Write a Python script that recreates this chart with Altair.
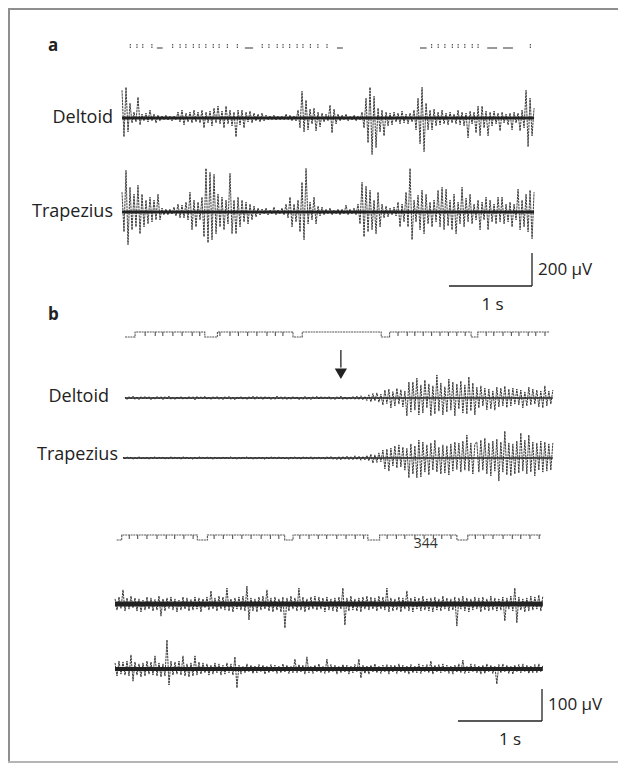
import altair as alt
import numpy as np
import pandas as pd

# ---------------- data ----------------
DT_A = 0.0241   # s between samples, panel a
DT_B = 0.0238   # s between samples, panel b

# panel a, µV
DELTOID_A = [
    168, -114, 186, -84, 90, -30, 36, -24, 126, -42,
    24, -18, 30, -24, 48, -18, 24, -30, 18, -18,
    12, -12, 18, -12, 12, -18, 12, -12, 36, -24,
    48, -42, 30, -24, 36, -30, 48, -24, 36, -30,
    48, -60, 36, -30, 42, -48, 60, -30, 72, -36,
    42, -60, 72, -36, 48, -48, 36, -114, 48, -42,
    48, -60, 36, -24, 42, -30, 30, -18, 24, -24,
    30, -18, 18, -12, 12, -12, 18, -12, 12, -12,
    12, -12, 24, -12, 18, -18, 12, -18, 48, -60,
    162, -84, 108, -72, 54, -36, 60, -78, 36, -54,
    30, -24, 24, -18, 78, -90, 54, -36, 24, -18,
    18, -12, 24, -18, 12, -12, 18, -18, 12, -12,
    36, -60, 120, -150, 186, -222, 132, -180, 60, -84,
    48, -108, 36, -48, 30, -42, 36, -24, 30, -36,
    42, -30, 24, -36, 30, -24, 48, -72, 120, -156,
    186, -204, 90, -72, 48, -72, 54, -48, 36, -42,
    48, -36, 30, -42, 36, -30, 24, -36, 48, -42,
    36, -48, 30, -120, 42, -36, 36, -90, 72, -108,
    72, -60, 42, -108, 36, -48, 42, -36, 30, -78,
    36, -30, 24, -42, 30, -72, 36, -30, 30, -78,
    48, -60, 168, -174, 120, -108, 60,
]
TRAPEZIUS_A = [
    120, -120, 252, -198, 150, -108, 108, -90, 162, -132,
    108, -90, 72, -72, 90, -60, 72, -48, 108, -48,
    24, -18, 18, -18, 18, -12, 30, -24, 48, -36,
    42, -36, 60, -48, 120, -108, 72, -90, 60, -48,
    90, -150, 264, -186, 240, -168, 228, -132, 108, -90,
    90, -108, 72, -72, 234, -132, 72, -132, 90, -90,
    72, -60, 60, -72, 48, -48, 36, -30, 24, -18,
    18, -12, 24, -18, 12, -12, 30, -18, 12, -12,
    24, -18, 48, -36, 90, -90, 48, -60, 72, -120,
    180, -168, 264, -72, 60, -48, 90, -72, 36, -24,
    30, -18, 18, -12, 24, -18, 12, -12, 18, -18,
    18, -12, 42, -18, 18, -12, 24, -18, 48, -72,
    180, -150, 156, -120, 132, -108, 72, -132, 120, -90,
    48, -36, 36, -30, 24, -18, 30, -24, 60, -90,
    48, -60, 120, -90, 264, -168, 72, -60, 102, -108,
    132, -132, 108, -72, 60, -90, 72, -60, 132, -90,
    150, -108, 138, -84, 72, -108, 108, -132, 60, -72,
    150, -90, 84, -60, 108, -72, 48, -48, 72, -108,
    60, -48, 90, -108, 72, -60, 48, -72, 90, -60,
    90, -72, 48, -60, 60, -90, 48, -48, 138, -108,
    72, -90, 108, -120, 132, -162, 120,
]

# panel b, upper pair (arrow marks onset), µV
DELTOID_B1 = [
    3, -5, 4, -3, 6, -4, 3, -5, 4, -3,
    5, -3, 4, -6, 3, -4, 5, -3, 4, -5,
    4, -3, 6, -4, 3, -5, 4, -3, 5, -4,
    3, -4, 5, -3, 4, -6, 5, -3, 4, -3,
    6, -4, 3, -5, 4, -3, 5, -4, 3, -5,
    4, -3, 5, -4, 3, -6, 4, -3, 5, -4,
    3, -5, 4, -3, 6, -4, 5, -3, 4, -5,
    5, -3, 4, -5, 3, -4, 6, -3, 4, -4,
    4, -5, 3, -4, 5, -3, 4, -6, 3, -4,
    5, -4, 3, -5, 4, -3, 6, -4, 5, -3,
    4, -3, 5, -4, 3, -5, 4, -3, 6, -5,
    4, -5, 3, -4, 5, -4,
    6, -5, 7, -6, 5, -8,
    10, -12, 14, -9, 16, -13, 12,
    -22, 25, -18, 28, -31, 20, -25, 30, -19, 26, -28, 22,
    -56, 50,
    -44, 50, -38, 62, -53, 41, -47, 56, -31, 44,
    -56, 38, -50, 72, -41, 47, -53, 35, -44, 59,
    -38, 50, -56, 44, -34, 53, -47, 41, -50, 66,
    -40, 47, -53,
    34, -31, 38, -25, 31, -37, 28, -34, 22, -38,
    34, -28, 31, -25, 37, -30, 28,
    -25, 31, -19, 28, -22, 25, -31, 19, -25, 34,
    -22, 28, -19, 25, -28, 22, -31, 38, -25, 22,
    -19, 25,
]
TRAPEZIUS_B1 = [
    3, -3, 4, -2, 3, -4, 2, -3, 4, -3,
    2, -3, 3, -4, 3, -2, 4, -3, 3, -2,
    3, -4, 2, -3, 4, -3, 3, -2, 3, -4,
    4, -2, 3, -3, 2, -4, 3, -3, 4, -2,
    3, -3, 4, -2, 3, -4, 3, -2, 2, -3,
    4, -3, 3, -2, 4, -3, 2, -4, 3, -3,
    3, -2, 4, -3, 3, -4, 2, -3, 3, -2,
    2, -4, 3, -3, 4, -2, 3, -3, 4, -3,
    3, -3, 2, -4, 3, -2, 4, -3, 3, -4,
    4, -2, 3, -3, 4, -4, 3, -2, 3, -3,
    3, -4, 4, -3, 5, -4, 3, -5, 4, -6,
    5, -4, 6, -5, 4, -6, 7, -5, 6, -7,
    5, -6, 8,
    -9, 12, -16, 10, -14, 16, -12,
    25, -34, 28, -41, 31, -25, 38, -31, 41, -28, 34, -38, 30, -62,
    44, -50, 38, -62, 56, -59, 50, -44, 41, -53,
    47, -38, 56, -44, 34, -50, 41, -47, 38, -53,
    44, -41, 50, -36, 47, -44, 53, -38, 72, -41,
    47, -50, 44,
    50, -44, 56, -38, 62, -50, 47, -56, 53, -41,
    59, -72, 50, -44, 84, -53, 47, -56, 44, -50,
    53, -47, 78, -41, 56, -50, 72, -44, 50, -56,
    47, -38, 53, -44, 50, -41, 44, -38, 47,
]

# panel b, lower pair, µV
DELTOID_B2 = [
    16, -19, 22, -14, 44, -22, 19, -16, 25, -12,
    19, -22, 16, -25, 12, -19, 22, -16, 19, -22,
    14, -19, 25, -38, 16, -22, 19, -14, 22, -19,
    16, -25, 12, -19, 22, -16, 19, -22, 14, -19,
    22, -16, 19, -25, 16, -12, 22, -19, 41, -16,
    19, -22, 25, -16, 22, -19, 50, -22, 16, -25,
    19, -16, 22, -19, 25, -22, 56, -50, 19, -22,
    16, -25, 22, -19, 25, -16, 44, -22, 19, -25,
    22, -19, 16, -25, 22, -75, 19, -22, 25, -16,
    19, -22, 50, -19, 22, -25, 16, -19, 22, -16,
    25, -19, 22, -16, 19, -25, 22, -19, 16, -22,
    19, -25, 22, -16, 50, -66, 19, -22, 25, -19,
    16, -22, 19, -25, 22, -16, 25, -19, 22, -16,
    19, -22, 25, -16, 22, -19, 50, -25, 19, -22,
    16, -19, 22, -25, 19, -16, 41, -22, 19, -25,
    22, -16, 19, -22, 25, -19, 16, -22, 19, -25,
    22, -19, 16, -22, 25, -16, 19, -22, 16, -19,
    22, -69, 19, -16, 25, -22, 19, -25, 16, -19,
    22, -16, 19, -25, 22, -19, 16, -22, 25, -19,
    19, -22, 16, -19, 22, -53, 19, -16, 25, -22,
    50, -59, 22, -19, 16, -25, 19, -22, 25, -19,
    22, -16, 28, -22, 25,
]
TRAPEZIUS_B2 = [
    19, -22, 25, -16, 22, -19, 25, -22, 44, -38,
    22, -19, 16, -25, 19, -22, 25, -16, 22, -19,
    41, -22, 19, -25, 16, -22, 91, -50, 25, -19,
    22, -16, 25, -19, 41, -22, 16, -25, 19, -22,
    41, -19, 22, -16, 19, -12, 16, -19, 12, -16,
    19, -12, 16, -19, 12, -16, 19, -12, 16, -19,
    38, -59, 12, -16, 9, -12, 16, -9, 12, -14,
    9, -12, 14, -9, 12, -16, 9, -12, 14, -9,
    12, -14, 9, -12, 16, -9, 12, -14, 9, -12,
    31, -12, 14, -9, 12, -16, 38, -12, 9, -14,
    12, -9, 16, -12, 9, -14, 31, -12, 14, -9,
    12, -16, 9, -12, 14, -9, 12, -16, 9, -12,
    14, -9, 31, -28, 12, -14, 9, -16, 12, -9,
    16, -12, 9, -14, 12, -9, 14, -16, 12, -9,
    12, -14, 16, -9, 12, -12, 9, -16, 14, -12,
    9, -12, 16, -14, 12, -9, 14, -12, 25, -16,
    12, -9, 14, -12, 16, -9, 12, -14, 9, -16,
    12, -9, 16, -12, 28, -14, 9, -12, 16, -9,
    14, -12, 9, -16, 12, -14, 16, -9, 12, -14,
    9, -47, 14, -12, 16, -9, 12, -14, 9, -16,
    12, -9, 14, -12, 16, -9, 12, -14, 9, -12,
    14, -12, 16, -9, 12,
]

# trigger channels (s)
TRIG_A_TICKS = [0.10, 0.18, 0.25, 0.36, 0.61, 0.70, 0.77, 0.86, 0.93, 1.01,
                1.10, 1.17, 1.27, 1.39, 1.69, 1.77, 1.87, 1.94, 2.02, 2.11,
                2.18, 2.27, 2.36, 2.47, 3.73, 3.81, 3.89, 3.98, 4.05, 4.13,
                4.22, 4.29, 4.92]
TRIG_A_DASH_START = [0.42, 1.48, 2.59, 3.59, 4.40, 4.59]
TRIG_A_DASH_END = [0.49, 1.58, 2.66, 3.67, 4.52, 4.71]

TRIG_B1_T = [0.00, 0.12, 0.95, 1.10, 2.00, 2.11, 3.05, 3.15, 4.12, 4.20, 5.05]
TRIG_B1_L = [0, 1, 0, 1, 0, 1, 0, 1, 0, 1, 1]
TRIG_B1_TICKS = [0.24, 0.36, 0.45, 0.57, 0.68, 0.80, 0.89,
                 1.13, 1.25, 1.35, 1.46, 1.57, 1.69, 1.79, 1.88,
                 3.25, 3.36, 3.45, 3.55, 3.65, 3.75, 3.85, 3.95, 4.05,
                 4.30, 4.39, 4.50, 4.60, 4.69, 4.80, 4.89, 5.00]

TRIG_B2_T = [0.02, 0.08, 0.98, 1.10, 2.02, 2.12, 3.01, 3.15, 4.07, 4.20, 5.07]
TRIG_B2_L = [0, 1, 0, 1, 0, 1, 0, 1, 0, 1, 1]
TRIG_B2_TICKS = [0.17, 0.27, 0.38, 0.50, 0.61, 0.71, 0.82, 0.93,
                 1.18, 1.29, 1.40, 1.51, 1.62, 1.74, 1.85, 1.95,
                 2.20, 2.31, 2.42, 2.52, 2.64, 2.75, 2.86, 2.96,
                 3.24, 3.35, 3.45, 3.57, 3.68, 3.79, 3.89, 4.00,
                 4.29, 4.39, 4.50, 4.62, 4.73, 4.83, 4.94, 5.05]
TRIG_B2_NOTE = "344"
TRIG_B2_NOTE_T = 3.70

ARROW_T = 2.57            # s, onset marker in upper b
ARROW_TOP, ARROW_BOTTOM, ARROW_HEAD = 150, 95, 76   # µV

BAR_A_S, BAR_A_UV = 1, 200
BAR_B_S, BAR_B_UV = 1, 100

# ---------------- layout ----------------
OX, OY = 8, 8
W, H = 610, 755
INK = "#222222"
TRIG_INK = "#555555"
FONT = "Open Sans"
KX_A, KY_A = 83, 0.165      # px per s, px per µV (panel a)
KX_B, KY_B = 84, 0.32       # panel b


def sx(x0, k):
    return alt.Scale(domain=[0, 1], range=[x0 - OX, x0 - OX + k], nice=False, zero=False)


def sy(y0, k):
    return alt.Scale(domain=[0, 1], range=[y0 - OY, y0 - OY - k], nice=False, zero=False)


def XQ(field, x0, k):
    return alt.X(field, type="quantitative", scale=sx(x0, k), axis=None)


def YQ(field, y0, k):
    return alt.Y(field, type="quantitative", scale=sy(y0, k), axis=None)


def trace_layers(values, dt, x0, kx, y0, ky, label, ldx, ldy, core):
    df = pd.DataFrame({"t": np.arange(len(values)) * dt, "v": values, "z": 0.0})
    out = [
        alt.Chart(df).mark_line(color=INK, strokeWidth=core).encode(
            x=XQ("t", x0, kx), y=YQ("z", y0, ky)),
        alt.Chart(df).mark_line(color=INK, strokeWidth=0.95, opacity=0.92,
                                strokeDash=[2.4, 0.7]).encode(
            x=XQ("t", x0, kx), y=YQ("v", y0, ky)),
    ]
    if label:
        out.append(alt.Chart(pd.DataFrame({"t": [0.0], "v": [0.0], "s": [label]})).mark_text(
            align="right", baseline="alphabetic", dx=ldx, dy=ldy, font=FONT,
            fontSize=18, color=INK).encode(x=XQ("t", x0, kx), y=YQ("v", y0, ky), text="s:N"))
    return out


def tick_trigger(ticks, starts, ends, x0, kx, y0):
    tdf = pd.DataFrame({"t": ticks, "a": 0.0, "b": 1.0})
    ddf = pd.DataFrame({"s": starts, "e": ends, "l": 0.0})
    return [
        alt.Chart(tdf).mark_rule(color=TRIG_INK, strokeWidth=1.2, strokeDash=[1.5, 1]).encode(
            x=XQ("t", x0, kx), y=YQ("a", y0, 4), y2="b:Q"),
        alt.Chart(ddf).mark_rule(color=TRIG_INK, strokeWidth=1.2).encode(
            x=XQ("s", x0, kx), x2="e:Q", y=YQ("l", y0, 4)),
    ]


def step_trigger(ts, levels, ticks, x0, kx, y0, note=None, note_t=None):
    ldf = pd.DataFrame({"t": ts, "l": levels})
    tdf = pd.DataFrame({"t": ticks, "a": 1.0, "b": 0.2})
    out = [
        alt.Chart(ldf).mark_line(color=TRIG_INK, strokeWidth=1.1, interpolate="step-after",
                                 strokeDash=[2, 0.7]).encode(
            x=XQ("t", x0, kx), y=YQ("l", y0, 5)),
        alt.Chart(tdf).mark_rule(color=TRIG_INK, strokeWidth=1.1).encode(
            x=XQ("t", x0, kx), y=YQ("a", y0, 5), y2="b:Q"),
    ]
    if note:
        out.append(alt.Chart(pd.DataFrame({"t": [note_t], "l": [0.0], "s": [note]})).mark_text(
            font=FONT, fontSize=14, color="#333", baseline="middle", dy=4).encode(
            x=XQ("t", x0, kx), y=YQ("l", y0, 5), text="s:N"))
    return out


def scale_bar(sec, uv, x0, kx, y0, ky, dx_s):
    return [
        alt.Chart(pd.DataFrame({"t": [0.0], "t2": [float(sec)], "v": [0.0]})).mark_rule(
            color=INK, strokeWidth=1.3).encode(x=XQ("t", x0, kx), x2="t2:Q", y=YQ("v", y0, ky)),
        alt.Chart(pd.DataFrame({"t": [float(sec)], "v": [0.0], "v2": [float(uv)]})).mark_rule(
            color=INK, strokeWidth=1.3).encode(x=XQ("t", x0, kx), y=YQ("v", y0, ky), y2="v2:Q"),
        alt.Chart(pd.DataFrame({"t": [float(sec)], "v": [uv / 2], "s": [f"{uv} µV"]})).mark_text(
            align="left", baseline="middle", dx=6, font=FONT, fontSize=17, color=INK).encode(
            x=XQ("t", x0, kx), y=YQ("v", y0, ky), text="s:N"),
        alt.Chart(pd.DataFrame({"t": [sec / 2], "v": [0.0], "s": [f"{sec} s"]})).mark_text(
            align="center", baseline="middle", dy=19, dx=dx_s, font=FONT, fontSize=17, color=INK).encode(
            x=XQ("t", x0, kx), y=YQ("v", y0, ky), text="s:N"),
    ]


def arrow(x0, kx, y0, ky):
    return [
        alt.Chart(pd.DataFrame({"t": [ARROW_T], "v": [ARROW_TOP], "v2": [ARROW_BOTTOM]})).mark_rule(
            color=INK, strokeWidth=1.3).encode(x=XQ("t", x0, kx), y=YQ("v", y0, ky), y2="v2:Q"),
        alt.Chart(pd.DataFrame({"t": [ARROW_T], "v": [ARROW_HEAD]})).mark_point(
            shape="triangle-down", filled=True, color=INK, size=150, opacity=1).encode(
            x=XQ("t", x0, kx), y=YQ("v", y0, ky)),
    ]


# page canvas (for the scanned frame and panel letters)
def canvas_x():
    return alt.Scale(domain=[0, 1], range=[0 - OX, 1 - OX], nice=False, zero=False)


def canvas_y():
    return alt.Scale(domain=[0, 1], range=[0 - OY, 1 - OY], nice=False, zero=False)


FRAME_X1 = [9, 8, 8]
FRAME_X2 = [9, 618, 618]
FRAME_Y1 = [8, 9, 762]
FRAME_Y2 = [762, 9, 762]
FRAME_C = ["#8f8f8f", "#8f8f8f", "#b5b5b5"]
frame_df = pd.DataFrame({"x": FRAME_X1, "x2": FRAME_X2, "y": FRAME_Y1, "y2": FRAME_Y2, "c": FRAME_C})
frame = alt.Chart(frame_df).mark_rule(strokeWidth=2).encode(
    x=alt.X("x:Q", scale=canvas_x(), axis=None), x2="x2:Q",
    y=alt.Y("y:Q", scale=canvas_y(), axis=None), y2="y2:Q",
    color=alt.Color("c:N", scale=None))

letters = alt.Chart(pd.DataFrame({"x": [48, 48], "y": [51, 320], "s": ["a", "b"]})).mark_text(
    font=FONT, fontSize=17, fontWeight="bold", color="#222", align="left", baseline="alphabetic").encode(
    x=alt.X("x:Q", scale=canvas_x(), axis=None), y=alt.Y("y:Q", scale=canvas_y(), axis=None), text="s:N")

layers = [frame, letters]
layers += tick_trigger(TRIG_A_TICKS, TRIG_A_DASH_START, TRIG_A_DASH_END, 122, KX_A, 48)
layers += trace_layers(DELTOID_A, DT_A, 122, KX_A, 118, KY_A, "Deltoid", -9, 5, 3)
layers += trace_layers(TRAPEZIUS_A, DT_A, 122, KX_A, 212, KY_A, "Trapezius", -9, 5, 3)
layers += scale_bar(BAR_A_S, BAR_A_UV, 449, KX_A, 286, KY_A, 2)
layers += step_trigger(TRIG_B1_T, TRIG_B1_L, TRIG_B1_TICKS, 125, KX_B, 337)
layers += trace_layers(DELTOID_B1, DT_B, 125, KX_B, 398, KY_B, "Deltoid", -16, 4, 1.6)
layers += arrow(125, KX_B, 398, KY_B)
layers += trace_layers(TRAPEZIUS_B1, DT_B, 123, KX_B, 458, KY_B, "Trapezius", -5, 2, 1.6)
layers += step_trigger(TRIG_B2_T, TRIG_B2_L, TRIG_B2_TICKS, 115, KX_B, 540,
                       note=TRIG_B2_NOTE, note_t=TRIG_B2_NOTE_T)
layers += trace_layers(DELTOID_B2, DT_B, 115, KX_B, 604, KY_B, None, 0, 0, 5)
layers += trace_layers(TRAPEZIUS_B2, DT_B, 115, KX_B, 669, KY_B, None, 0, 0, 4)
layers += scale_bar(BAR_B_S, BAR_B_UV, 458, KX_B, 721, KY_B, 10)

chart = alt.layer(*layers).resolve_scale(
    x="independent", y="independent"
).properties(
    width=W, height=H, padding=0, autosize="none", background="white"
).configure_view(stroke="transparent", strokeWidth=0, strokeOpacity=0)

chart.save("out.html", embed_options={"renderer": "svg", "actions": False})
